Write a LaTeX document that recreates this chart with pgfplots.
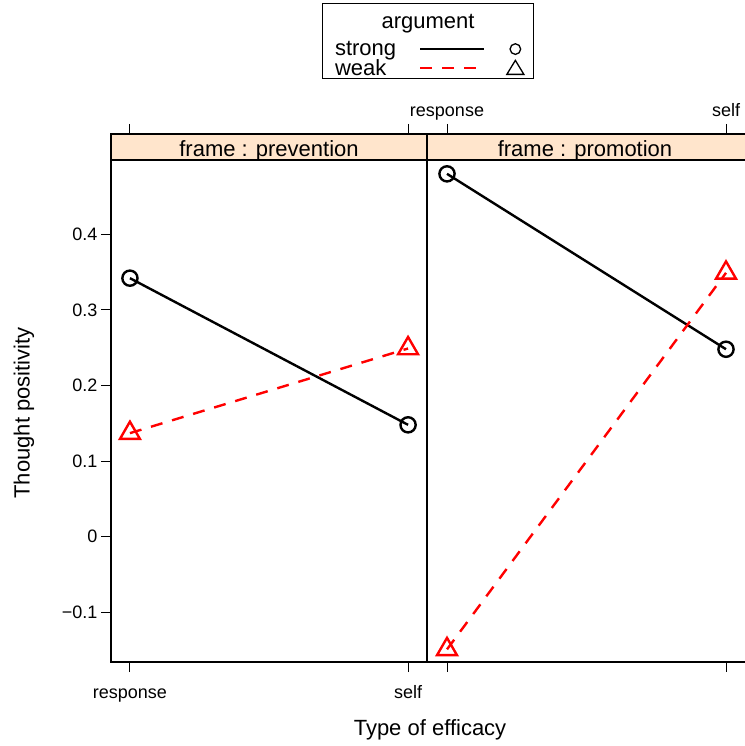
\documentclass[border=0pt]{standalone}
\usepackage{pgfplots}
\pgfplotsset{compat=1.18}
\usepackage{fontspec}
\setmainfont{Liberation Sans}
\definecolor{stripbg}{HTML}{FFE5CC}
\pgfplotsset{
 panel/.style={
  scale only axis, width=316pt, height=528pt,
  xmin=0.9319, xmax=2.0681, ymin=-0.1657, ymax=0.5327,
  xtick={1,2}, xticklabels={response,self},
  tick align=outside, major tick length=10pt,
  every tick/.style={black, line width=0.9pt},
  axis line style={line width=1.2pt},
  ticklabel style={font=\fontsize{18}{18}\selectfont},
  xticklabel style={text height=13pt, text depth=4pt},
  clip=false, axis on top,
  /pgf/number format/assume math mode=true,
 },
 strongline/.style={black, line width=2.4pt, mark=o, mark size=7.6pt, mark options={line width=2.4pt}},
 weakline/.style={red, line width=2.4pt, dash pattern=on 12pt off 10pt, mark=triangle, mark size=11.5pt, mark options={solid, line width=2.4pt}},
}
\begin{document}
\begin{tikzpicture}[x=1pt,y=1pt]
\useasboundingbox (0,0) rectangle (744,746);
\begin{axis}[panel, at={(111pt,84pt)}, anchor=south west,
  xtick pos=both, xticklabel pos=lower,
  xticklabel style={yshift=-9.5pt},
  ytick={-0.1,0,0.1,0.2,0.3,0.4}, yticklabels={−0.1,0,0.1,0.2,0.3,0.4}, ytick pos=left,
  legend style={draw=none, fill=none, inner sep=0pt, outer sep=0pt, at={(0.7089,1.1757)}, anchor=north west,
    font=\fontsize{22}{22}\selectfont, row sep=2.7pt, nodes={inner sep=0pt}},
  legend plot pos=right, legend cell align=left]
 \fill[stripbg] (rel axis cs:0,0.9508) rectangle (rel axis cs:1,1);
 \draw[line width=1.2pt] (rel axis cs:0,0.9508) -- (rel axis cs:1,0.9508);
 \node[anchor=base, font=\fontsize{22}{22}\selectfont] at (rel axis cs:0.5,0.9565) {frame : prevention};
 \addlegendimage{legend image code/.code={\path (0pt,0pt); \draw[black,line width=2.2pt] (24pt,0pt)--(88pt,0pt); \draw[black,line width=1.3pt] (119pt,0pt) circle (5.3pt);}}
 \addlegendentry{strong}
 \addlegendimage{legend image code/.code={\path (0pt,0pt); \draw[red,line width=2.2pt,dash pattern=on 12pt off 10pt] (24pt,0pt)--(88pt,0pt); \draw[black,line width=1.3pt] (119pt,8pt)--(127.5pt,-6pt)--(110.5pt,-6pt)--cycle;}}
 \addlegendentry{weak}
 \addplot[strongline, forget plot] coordinates {(1,0.342) (2,0.148)};
 \addplot[weakline, forget plot] coordinates {(1,0.137) (2,0.249)};
\end{axis}
\begin{axis}[panel, at={(427pt,84pt)}, anchor=south west,
  width=318.5pt, xmin=0.92832, xmax=2.0699,
  xtick pos=both, xticklabel pos=upper, ytick=\empty]
 \fill[stripbg] (rel axis cs:0,0.9508) rectangle (rel axis cs:1,1);
 \draw[line width=1.2pt] (rel axis cs:0,0.9508) -- (rel axis cs:1,0.9508);
 \node[anchor=base, font=\fontsize{22}{22}\selectfont] at (rel axis cs:0.4961,0.9565) {frame : promotion};
 \addplot[strongline] coordinates {(1,0.480) (2,0.248)};
 \addplot[weakline] coordinates {(1,-0.149) (2,0.349)};
\end{axis}
\draw[line width=1pt] (322,742) rectangle (533,667);
\node[anchor=base, font=\fontsize{22}{22}\selectfont] at (428,717.7) {argument};
\node[anchor=base, font=\fontsize{22}{22}\selectfont] at (430,10) {Type of efficacy};
\node[anchor=base, rotate=90, font=\fontsize{22}{22}\selectfont] at (29.5,333) {Thought positivity};
\end{tikzpicture}
\end{document}
